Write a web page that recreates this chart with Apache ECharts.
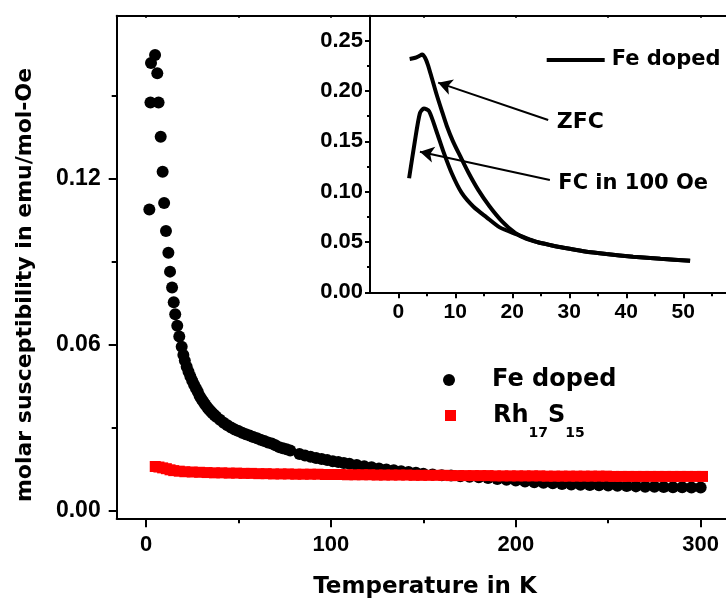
<!DOCTYPE html>
<html>
<head>
<meta charset="utf-8">
<script src="https://cdn.jsdelivr.net/npm/echarts@6/dist/echarts.min.js"></script>
<style>
  html, body { margin: 0; padding: 0; background: #ffffff; }
  #chart { width: 726px; height: 604px; }
</style>
</head>
<body>
<div id="chart"></div>
<script>
// Molar susceptibility of Fe-doped sample (circles) vs temperature, K
const feT = [1.8, 2.4, 2.7, 4.9, 6.1, 6.8, 7.95, 9.0, 9.8, 10.8,
  12.1, 13.0, 14.1, 15.0, 15.8, 16.9, 18.0, 19.3, 20.2,
  21, 22, 23, 24, 25, 26, 27, 28, 29, 30, 31, 32, 33, 34, 35, 36, 37, 38,
  40, 42, 44, 46, 48, 50, 52, 54, 56, 58, 60, 62, 64, 66, 68, 70, 72, 74, 76, 78,
  83, 86, 89, 92, 95, 98, 101, 104, 107, 110,
  114, 118, 122, 126, 130, 134, 138, 142, 146, 150,
  155, 160, 165, 170, 175, 180, 185, 190, 195, 200, 205, 210, 215, 220, 225,
  230, 235, 240, 245, 250, 255, 260, 265, 270, 275, 280, 285, 290, 295, 300];
const feChi = [0.1090, 0.1477, 0.1620, 0.1649, 0.1583, 0.1477, 0.1353, 0.1226, 0.1113, 0.1012,
  0.0933, 0.0865, 0.0808, 0.0754, 0.0711, 0.0669, 0.0630, 0.0593, 0.0563,
  0.0543, 0.0521, 0.0503, 0.0486, 0.0470, 0.0456, 0.0443, 0.0430, 0.0415, 0.0404, 0.0394, 0.0384,
  0.0375, 0.0367, 0.0360, 0.0353, 0.0346, 0.0340,
  0.0329, 0.0318, 0.0309, 0.0301, 0.0294, 0.0288, 0.0282, 0.0277, 0.0272, 0.0267, 0.0262, 0.0257,
  0.0252, 0.0247, 0.0243, 0.0237, 0.0230, 0.0226, 0.0222, 0.0218,
  0.0205, 0.0200, 0.0195, 0.0191, 0.0187, 0.0183, 0.0179, 0.0176, 0.0173, 0.0170,
  0.0165, 0.0161, 0.0157, 0.0153, 0.0149, 0.0146, 0.0143, 0.0140, 0.0137, 0.0134,
  0.0131, 0.0128, 0.0127, 0.0125, 0.0123, 0.0121, 0.0118, 0.0115, 0.0112, 0.0109, 0.0106, 0.0103,
  0.0101, 0.0099, 0.0097, 0.0095, 0.0094, 0.0093, 0.0092, 0.0091, 0.0090, 0.0089, 0.0088, 0.0087,
  0.0087, 0.0086, 0.0085, 0.0085, 0.0084, 0.0084];

// Undoped Rh17S15 (squares)
const rhT = [5, 7, 9, 11, 13, 15, 18, 21, 25, 29, 33, 37, 41, 45, 49, 53, 57,
  61, 65, 69, 73, 77, 81, 85, 89, 93, 97, 101, 105, 109, 113, 117, 121, 125, 129, 133, 137,
  141, 145, 149, 153, 157, 161, 165, 169, 173, 177, 181, 185, 189, 193, 197, 201, 205, 209,
  213, 217, 221, 225, 229, 233, 237, 241, 245, 249, 253, 257, 261, 265, 269, 273, 277, 281,
  285, 289, 293, 297, 301];
const rhChi = [0.0160, 0.0158, 0.0155, 0.0152, 0.0148, 0.0145, 0.0143, 0.0141, 0.0140, 0.0139,
  0.0138, 0.0137, 0.0137, 0.0136, 0.0136, 0.0135, 0.0135,
  0.0134, 0.0134, 0.0133, 0.0133, 0.0133, 0.0132, 0.0132, 0.0132, 0.0132, 0.0131, 0.0131, 0.0131,
  0.0130, 0.0130, 0.0130, 0.0130, 0.0129, 0.0129, 0.0129, 0.0129,
  0.0129, 0.0128, 0.0128, 0.0128, 0.0128, 0.0128, 0.0127, 0.0127, 0.0127, 0.0127, 0.0127, 0.0127,
  0.0126, 0.0126, 0.0126, 0.0126, 0.0126, 0.0126,
  0.0126, 0.0125, 0.0125, 0.0125, 0.0125, 0.0125, 0.0125, 0.0125, 0.0125, 0.0125, 0.0124, 0.0124,
  0.0124, 0.0124, 0.0124, 0.0124, 0.0124, 0.0124,
  0.0124, 0.0124, 0.0124, 0.0124, 0.0124];

// Inset: low-temperature curves of the Fe-doped sample
const zfcT = [2.0, 3.0, 3.6, 4.2, 4.7, 5.2, 5.9, 6.7, 7.6, 8.5, 9.6, 10.8, 12.3, 14.0, 16.0,
  18.2, 20.5, 22.5, 24.5, 26.6, 29.0, 32.5, 36.5, 41.2, 46.0, 51.2];
const zfcChi = [0.2318, 0.2330, 0.2345, 0.2362, 0.2330, 0.2260, 0.2126, 0.1970, 0.1810, 0.1655,
  0.1500, 0.1360, 0.1190, 0.1020, 0.0855, 0.0705, 0.0590, 0.0530, 0.0497, 0.0470, 0.0442,
  0.0408, 0.0380, 0.0354, 0.0333, 0.0314];
const fcT = [1.9, 2.9, 3.8, 4.5, 5.4, 6.7, 7.9, 9.4, 11.1, 13.2, 15.5, 17.8, 20.8, 23.0, 24.5,
  26.6, 29.0, 32.5, 36.5, 41.2, 46.0, 51.2];
const fcChi = [0.1133, 0.1497, 0.1780, 0.1825, 0.1800, 0.1600, 0.1400, 0.1180, 0.0990, 0.0850,
  0.0745, 0.0645, 0.0575, 0.0527, 0.0497, 0.0470, 0.0442, 0.0408, 0.0380, 0.0354, 0.0333, 0.0314];

// Tick labels
const mainXTicks = [0, 100, 200, 300];
const mainXMinor = [50, 150, 250];
const mainYTicks = [0, 0.06, 0.12];
const mainYMinor = [0.03, 0.09, 0.15];
const insetXTicks = [0, 10, 20, 30, 40, 50];
const insetXMinor = [5, 15, 25, 35, 45, 55];
const insetYTicks = [0, 0.05, 0.10, 0.15, 0.20, 0.25];
const insetYMinor = [0.025, 0.075, 0.125, 0.175, 0.225];

// Arrow annotations in inset data units: [tail, head]
const zfcArrow = [[26.3, 0.1712], [7.0, 0.2083]];
const fcArrow = [[26.6, 0.1116], [3.8, 0.1397]];

const zip = (a, b) => a.map((v, i) => [v, b[i]]);

const TICK_FONT = '"Liberation Sans", Arial, sans-serif';
const TEXT_FONT = '"DejaVu Sans", sans-serif';
const BLACK = '#000000';

function axisBase(gridIndex, min, max) {
  return {
    type: 'value', gridIndex: gridIndex, min: min, max: max,
    splitLine: { show: false },
    axisLine: { show: true, onZero: false, lineStyle: { color: BLACK, width: 2 } },
    axisTick: { show: false },
    axisLabel: { show: false }
  };
}
function majorAxis(gridIndex, min, max, position, ticks, tickLen, fontSize, margin, fmt) {
  const a = axisBase(gridIndex, min, max);
  a.position = position;
  a.axisTick = { show: true, inside: false, length: tickLen, customValues: ticks,
    lineStyle: { color: BLACK, width: 2 } };
  a.axisLabel = { show: true, customValues: ticks, margin: margin, color: BLACK,
    fontFamily: TICK_FONT, fontWeight: 'bold', fontSize: fontSize, formatter: fmt };
  return a;
}
function minorAxis(gridIndex, min, max, position, ticks, tickLen, inside, showLine) {
  const a = axisBase(gridIndex, min, max);
  a.position = position;
  a.axisLine = { show: !!showLine, onZero: false, lineStyle: { color: BLACK, width: 2 } };
  a.axisTick = { show: true, inside: !!inside, length: tickLen, customValues: ticks,
    lineStyle: { color: BLACK, width: 2 } };
  return a;
}

const MX = [-15.85, 313.7], MY = [-0.00275, 0.1791];
const IX = [-4.96, 57.5], IY = [0, 0.2748];
const f2 = v => v.toFixed(2);
const fInt = v => String(v);

const option = {
  backgroundColor: '#ffffff',
  animation: false,
  grid: [
    { left: 116.7, top: 15.7, width: 609.3, height: 502.6 },
    { left: 370, top: 15.7, width: 356, height: 276.6 }
  ],
  xAxis: [
    majorAxis(0, MX[0], MX[1], 'bottom', mainXTicks, 9, 22, 16, fInt),
    minorAxis(0, MX[0], MX[1], 'bottom', mainXMinor, 5),
    minorAxis(0, MX[0], MX[1], 'top', mainXTicks.concat(mainXMinor), 2, true, true),
    majorAxis(1, IX[0], IX[1], 'bottom', insetXTicks, 6, 21, 9, fInt),
    minorAxis(1, IX[0], IX[1], 'bottom', insetXMinor, 4)
  ],
  yAxis: [
    majorAxis(0, MY[0], MY[1], 'left', mainYTicks, 8, 23, 16, f2),
    minorAxis(0, MY[0], MY[1], 'left', mainYMinor, 5),
    majorAxis(1, IY[0], IY[1], 'left', insetYTicks, 5, 22, 7, f2),
    minorAxis(1, IY[0], IY[1], 'left', insetYMinor, 3)
  ],
  legend: [
    {
      data: [{ name: 'Fe doped', icon: 'circle' }],
      left: 443, top: 366, padding: 0, itemWidth: 12, itemHeight: 12,
      selectedMode: false,
      itemStyle: { opacity: 1 },
      textStyle: { color: BLACK, fontFamily: TEXT_FONT, fontWeight: 'bold', fontSize: 24,
        lineHeight: 28, padding: [0, 0, 0, 32] }
    },
    {
      data: [{ name: 'Rh17S15', icon: 'rect' }],
      left: 445, top: 390.5, padding: 0, itemWidth: 11, itemHeight: 11,
      selectedMode: false,
      itemStyle: { opacity: 1 },
      formatter: () => '{m|Rh}{s|17}{m|S}{s|15}',
      textStyle: {
        color: BLACK, fontFamily: TEXT_FONT, fontWeight: 'bold', fontSize: 24,
        padding: [0, 0, 0, 32],
        rich: {
          m: { fontFamily: TEXT_FONT, fontWeight: 'bold', fontSize: 24, lineHeight: 24, color: BLACK },
          s: { fontFamily: TEXT_FONT, fontWeight: 'bold', fontSize: 14, lineHeight: 14, color: BLACK,
            padding: [36, 0, 0, 0] }
        }
      }
    },
    {
      data: [{ name: 'Fe doped', icon: 'rect' }],
      left: 546.7, top: 48, padding: 0, itemWidth: 58, itemHeight: 4,
      symbolKeepAspect: false, selectedMode: false,
      itemStyle: { opacity: 1 },
      textStyle: { color: BLACK, fontFamily: TEXT_FONT, fontWeight: 'bold', fontSize: 21,
        lineHeight: 24, padding: [0, 0, 0, 2] }
    }
  ],
  series: [
    {
      name: 'Fe doped', type: 'scatter', xAxisIndex: 0, yAxisIndex: 0,
      symbol: 'circle', symbolSize: 12, itemStyle: { color: BLACK, opacity: 1 },
      data: zip(feT, feChi), z: 2
    },
    {
      name: 'Rh17S15', type: 'scatter', xAxisIndex: 0, yAxisIndex: 0,
      symbol: 'rect', symbolSize: 11, itemStyle: { color: '#ff0000', opacity: 1 },
      data: zip(rhT, rhChi), z: 3
    },
    {
      name: 'Fe doped', type: 'line', xAxisIndex: 3, yAxisIndex: 2,
      symbol: 'none', showSymbol: false, smooth: 0.25,
      itemStyle: { color: BLACK },
      lineStyle: { color: BLACK, width: 4 },
      data: zip(zfcT, zfcChi),
      markLine: {
        silent: true, animation: false, symbol: ['none', 'arrow'], symbolSize: [12, 14],
        label: { show: false },
        lineStyle: { color: BLACK, width: 2, type: 'solid' },
        data: [[{ coord: zfcArrow[0] }, { coord: zfcArrow[1] }]]
      }
    },
    {
      name: 'Fe doped', type: 'line', xAxisIndex: 3, yAxisIndex: 2,
      symbol: 'none', showSymbol: false, smooth: 0.25,
      itemStyle: { color: BLACK },
      lineStyle: { color: BLACK, width: 4 },
      data: zip(fcT, fcChi),
      markLine: {
        silent: true, animation: false, symbol: ['none', 'arrow'], symbolSize: [12, 14],
        label: { show: false },
        lineStyle: { color: BLACK, width: 2, type: 'solid' },
        data: [[{ coord: fcArrow[0] }, { coord: fcArrow[1] }]]
      }
    }
  ],
  graphic: [
    {
      type: 'text', x: 425, y: 587,
      style: { text: 'Temperature in K', fill: BLACK, font: 'bold 23px ' + TEXT_FONT,
        align: 'center', verticalAlign: 'middle' }
    },
    {
      type: 'text', x: 25.3, y: 285, rotation: Math.PI / 2,
      style: { text: 'molar susceptibility in emu/mol-Oe', fill: BLACK, font: 'bold 22px ' + TEXT_FONT,
        align: 'center', verticalAlign: 'middle' }
    },
    {
      type: 'text', x: 556.7, y: 122,
      style: { text: 'ZFC', fill: BLACK, font: 'bold 22px ' + TEXT_FONT,
        align: 'left', verticalAlign: 'middle' }
    },
    {
      type: 'text', x: 558.3, y: 184,
      style: { text: 'FC in 100 Oe', fill: BLACK, font: 'bold 21px ' + TEXT_FONT,
        align: 'left', verticalAlign: 'middle' }
    }
  ]
};

const chart = echarts.init(document.getElementById('chart'), null, { renderer: 'canvas' });
chart.setOption(option);
</script>
</body>
</html>
